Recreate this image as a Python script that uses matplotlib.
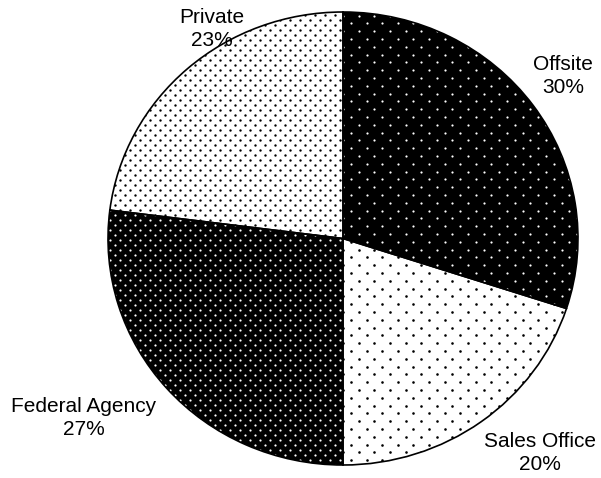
import numpy as np
import matplotlib
matplotlib.use("Agg")
import matplotlib.pyplot as plt
from matplotlib.patches import Wedge

# Share of responses by location type
categories = ["Offsite", "Sales Office", "Federal Agency", "Private"]
shares = [30, 20, 27, 23]

# Fill style per slice: base colour, dot colour, dot spacing (px: column, row), dot diameter (px)
face_colors = ["black", "white", "black", "white"]
dot_colors = ["white", "black", "white", "black"]
dot_pitch = [(15.6, 7.8), (15.6, 7.8), (10.0, 5.0), (10.0, 5.0)]
dot_diam = [2.2, 2.6, 2.2, 2.4]

# Label anchor positions in pixels (x from left, y from top)
label_xy = [(563, 76), (540, 453), (84, 418), (212, 29)]

W, H = 601, 478
DPI = 100
# Pie centre and radii in pixels (x from left, y from top)
CX, CY = 343.0, 238.5
RX, RY = 235.0, 226.5

fig = plt.figure(figsize=(W / DPI, H / DPI), dpi=DPI)
fig.patch.set_facecolor("white")
ax = fig.add_axes([0, 0, 1, 1])


def px_to_data(px, py_top):
    return (np.asarray(px) - CX) / RX, ((H - np.asarray(py_top)) - (H - CY)) / RY


wedges, _ = ax.pie(
    shares,
    startangle=90,
    counterclock=False,
    colors=face_colors,
    radius=1.0,
    center=(0, 0),
    wedgeprops=dict(edgecolor="none", linewidth=0),
    frame=False,
)

ax.set_aspect("auto")
x0, y0 = px_to_data(0, H)
x1, y1 = px_to_data(W, 0)
ax.set_xlim(x0, x1)
ax.set_ylim(y0, y1)
ax.axis("off")

# Dot textures clipped to each slice
for w, dc, (cw, rh), dd in zip(wedges, dot_colors, dot_pitch, dot_diam):
    xs, ys = [], []
    rows = np.arange(0, H + rh, rh)
    for i, y in enumerate(rows):
        off = 0.0 if i % 2 == 0 else cw / 2
        cols = np.arange(off, W + cw, cw)
        xs.extend(cols)
        ys.extend([y] * len(cols))
    xd, yd = px_to_data(xs, ys)
    d_pt = dd * 72.0 / DPI
    sc = ax.scatter(xd, yd, s=d_pt ** 2, c=dc, marker="o", linewidths=0, zorder=2)
    sc.set_clip_path(w)

# Slice outlines on top
for w in wedges:
    ax.add_patch(
        Wedge(w.center, w.r, w.theta1, w.theta2, fill=False,
              edgecolor="black", linewidth=1.2, zorder=3)
    )

# Labels
for cat, val, (lx, ly) in zip(categories, shares, label_xy):
    tx, ty = px_to_data(lx, ly)
    ax.text(tx, ty, f"{cat}\n{val}%", ha="center", va="center",
            fontsize=15, family="Liberation Sans", linespacing=1.3,
            color="black", zorder=4)

fig.savefig("out.png", dpi=DPI, facecolor="white")
